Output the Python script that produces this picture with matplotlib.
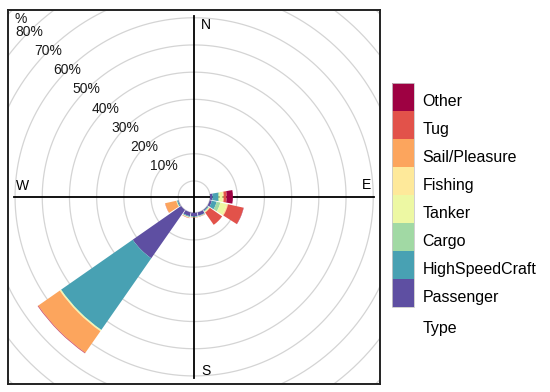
import numpy as np
import matplotlib.pyplot as plt
from matplotlib.patches import Wedge, Rectangle

plt.rcParams['font.family'] = ['Liberation Sans', 'DejaVu Sans']

# direction bins (degrees from north) and percentage per vessel type
directions = [90, 112.5, 135, 157.5, 180, 202.5, 225, 247.5]
types = ["Passenger", "HighSpeedCraft", "Cargo", "Tanker",
         "Fishing", "Sail/Pleasure", "Tug", "Other"]
passenger = [0.9, 0.8, 0.3, 1.2, 1.3, 1.4, 21.7, 0.2]
high_speed = [2.1, 1.8, 0.3, 0.2, 0.2, 0.3, 32.1, 0.4]
cargo = [0.4, 1.4, 0.2, 0.1, 0.1, 0.1, 0.1, 0.1]
tanker = [1.2, 2.3, 0.2, 0.1, 0.1, 0.1, 0.3, 0.1]
fishing = [0.3, 0.5, 0.1, 0.0, 0.0, 0.1, 0.2, 0.1]
sail = [0.2, 0.1, 0.1, 0.0, 0.0, 0.1, 9.6, 4.1]
tug = [1.0, 5.8, 5.5, 0.1, 0.1, 0.1, 0.2, 0.1]
other = [2.3, 0.1, 0.0, 0.0, 0.0, 0.0, 0.1, 0.0]
ring_levels = [10, 20, 30, 40, 50, 60, 70, 80, 90]
ring_labels = ["10%", "20%", "30%", "40%", "50%", "60%", "70%", "80%"]

colors = ["#5E4FA2", "#48A1B3", "#A1D9A4", "#EDF8A3",
          "#FEE99A", "#FCA55D", "#E2524A", "#9E0142"]

offset = 5.85     # hole in the middle, in % units
half_width = 10.1  # half wedge width in degrees

fig = plt.figure(figsize=(5.5, 3.92), dpi=100)
ax = fig.add_axes([0.0151, 0.0212, 0.6758, 0.9533])
ax.set_xlim(-68.33, 68.33)
ax.set_ylim(-68.7, 68.7)
ax.set_xticks([])
ax.set_yticks([])
for s in ax.spines.values():
    s.set_linewidth(1.4)
    s.set_color("#222222")

# rings
th = np.linspace(0, 2 * np.pi, 400)
for r in [0] + ring_levels:
    ax.plot((offset + r) * np.cos(th), (offset + r) * np.sin(th),
            color="#d4d4d4", lw=0.9, zorder=1)

# axis lines
ax.plot([-66.2, 66.2], [0, 0], color="black", lw=1.3, zorder=2)
ax.plot([0, 0], [-66.6, 66.6], color="black", lw=1.3, zorder=2)

# stacked wedges
series = [passenger, high_speed, cargo, tanker, fishing, sail, tug, other]
for i, d in enumerate(directions):
    base = offset
    ang = 90 - d
    for vals, c in zip(series, colors):
        v = vals[i]
        if v <= 0:
            continue
        ax.add_patch(Wedge((0, 0), base + v, ang - half_width, ang + half_width,
                           width=v, facecolor=c, edgecolor="none", zorder=3))
        base += v

# ring labels along the NW diagonal
for r, lab in zip(ring_levels, ring_labels):
    rr = (offset + r) / np.sqrt(2)
    ax.text(-rr, rr, lab, ha="center", va="center", fontsize=10,
            color="#1a1a1a", zorder=4)
# only the "%" of the outermost label shows in the corner
ax.text(-63.9, 65.5, "%", ha="center", va="center", fontsize=10,
        color="#1a1a1a", zorder=4)

ax.text(4.3, 63.2, "N", ha="center", va="center", fontsize=10)
ax.text(4.3, -64.0, "S", ha="center", va="center", fontsize=10)
ax.text(-63.2, 4.1, "W", ha="center", va="center", fontsize=10)
ax.text(63.5, 4.2, "E", ha="center", va="center", fontsize=10)

# key
W, H = 550.0, 392.0
key_left, key_right = 391.7, 414.3
key_top, key_bottom = 83.3, 307.3
seg = (key_bottom - key_top) / len(types)
for j, (name, c) in enumerate(zip(types[::-1], colors[::-1])):
    y0 = key_top + j * seg
    fig.patches.append(Rectangle((key_left / W, 1 - (y0 + seg) / H),
                                 (key_right - key_left) / W, seg / H,
                                 transform=fig.transFigure, facecolor=c,
                                 edgecolor="none"))
    fig.text(422.7 / W, 1 - (y0 + seg / 2 + 4.5) / H, name, ha="left",
             va="center", fontsize=11.5)
fig.patches.append(Rectangle((key_left / W, 1 - key_bottom / H),
                             (key_right - key_left) / W,
                             (key_bottom - key_top) / H,
                             transform=fig.transFigure, facecolor="none",
                             edgecolor="#c8c8c8", lw=0.6))
fig.text(422.7 / W, 1 - 328.5 / H, "Type", ha="left", va="center",
         fontsize=11.5)

fig.savefig("out.png", dpi=100)
